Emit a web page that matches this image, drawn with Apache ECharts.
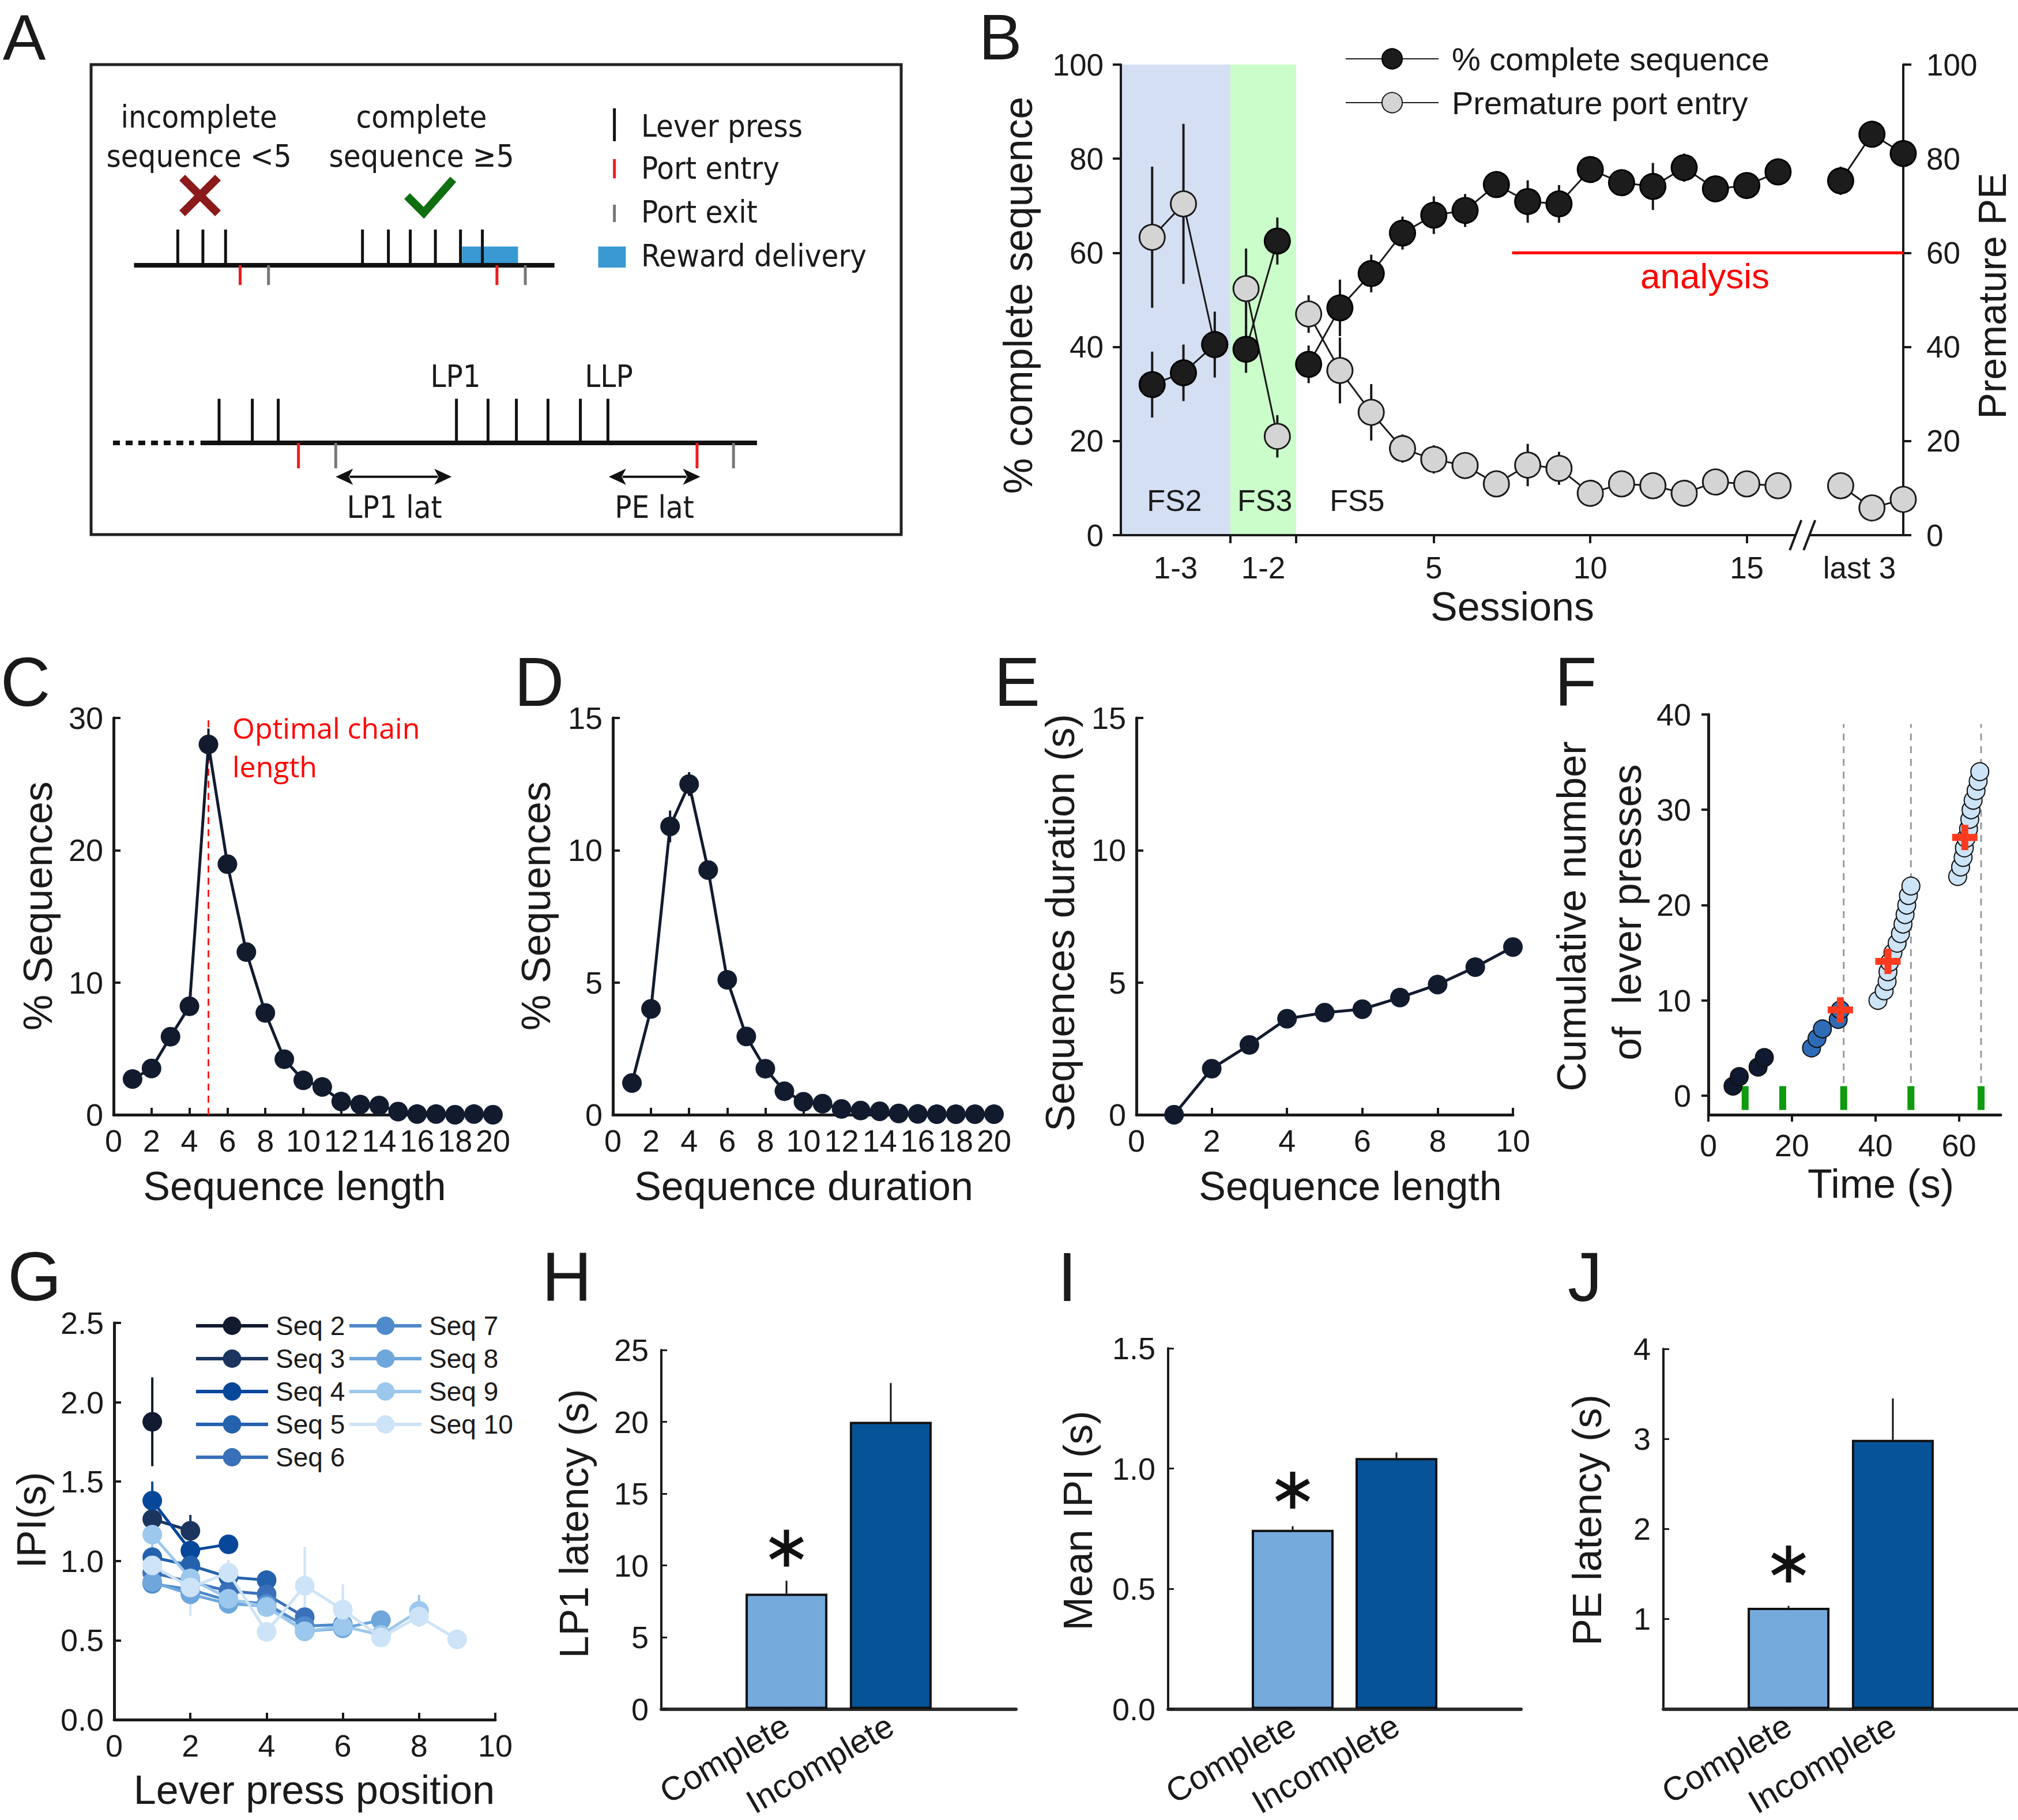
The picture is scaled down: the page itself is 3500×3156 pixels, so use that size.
<!DOCTYPE html>
<html><head><meta charset="utf-8">
<script src="https://cdn.jsdelivr.net/npm/echarts@6/dist/echarts.min.js"></script>
<style>html,body{margin:0;padding:0;background:#fff}#c{width:3500px;height:3156px}</style>
</head><body><div id="c"></div>
<script>
// ---------------- DATA ----------------
// Panel A schematic (arbitrary time units)
const aTimeline1 = [5.3, 57.2];
const aTimeline1Y = 57.3;
const aPresses1 = [10.7, 13.8, 16.6, 33.5, 36.7, 39.4, 42.5, 45.6, 48.3];
const aEntries1 = [18.4, 50.1];
const aExits1 = [21.9, 53.6];
const aReward1 = [45.8, 52.7];
const aTimeline2 = [13.5, 82.2];
const aTimeline2Dotted = [2.7, 12.7];
const aTimeline2Y = 19.5;
const aPresses2 = [15.8, 19.9, 23.1, 45.1, 49.0, 52.5, 56.4, 60.4, 63.8];
const aEntries2 = [25.6, 74.8];
const aExits2 = [30.2, 79.3];
const aLatencyArrows = [[30.2, 44.5], [63.9, 75.2]];

// Panel B
const bPos = [1,2,3, 4,5, 6,7,8,9,10,11,12,13,14,15,16,17,18,19,20,21, 23,24,25];
const bGroup = [0,0,0, 1,1, 2,2,2,2,2,2,2,2,2,2,2,2,2,2,2,2, 3,3,3];
const bComplete = [32,34.5,40.5, 39.5,62.5, 36.3,48.3,55.6,64.2,68,69,74.5,70.9,70.4,77.7,74.9,74.1,78.1,73.6,74.3,77.2, 75.3,85.2,81.1];
const bCompleteErr = [7,6,7, 5,5, 4,6,4,3.5,4,3.5,2,4.5,4,2,2.5,5,3,2,2.5,2, 3,2,2];
const bPremature = [63.3,70.4,40.5, 52.4,21, 47,35,26.1,18.4,16.1,14.8,10.9,14.9,14.2,8.9,10.9,10.5,8.9,11.3,10.9,10.5, 10.5,5.8,7.6];
const bPrematureErr = [15,17,3, 8.5,4.5, 4,7,6,3,3,2,1.5,4.5,3.5,2,2,2,1.5,2,1.5,1.5, 2,1.5,1.5];
const bStageStart = [0, 3.5];
const bStageEnd = [3.5, 5.6];
const bStageNames = ['FS2', 'FS3', 'FS5'];
const bStageLabelX = [1.71, 4.6, 7.55];
const bStageLabelY = 7.4;
const bTickPos = [3.5, 5.6, 10, 15, 20];
const bLabelPos = [1.75, 4.55, 10, 15, 20, 23.6];
const bLabelText = ['1-3', '1-2', '5', '10', '15', 'last 3'];
const bAnalysisRange = [12.5, 25];
const bAnalysisLevel = 60;
const bBreakAt = 21.78;

// Panel C
const cLength = [1,2,3,4,5,6,7,8,9,10,11,12,13,14,15,16,17,18,19,20];
const cPct = [2.7,3.5,5.9,8.2,28.0,18.95,12.3,7.7,4.2,2.6,2.1,1.0,0.77,0.7,0.24,0.05,0.05,0.0,0.05,0.0];
const cErr = [0.1,0.1,0.2,0.3,1.2,0.3,0.3,0.2,0.1,0.1,0.05,0.05,0,0,0,0,0,0,0,0];
const cOptimal = 5;

// Panel D
const dDuration = [1,2,3,4,5,6,7,8,9,10,11,12,13,14,15,16,17,18,19,20];
const dPct = [1.2,4.0,10.9,12.5,9.25,5.1,2.96,1.74,0.89,0.49,0.42,0.22,0.16,0.13,0.05,0.03,0.02,0.02,0.02,0.02];
const dErr = [0.1,0.2,0.6,0.45,0.2,0.15,0.1,0.05,0,0,0,0,0,0,0,0,0,0,0,0];

// Panel E
const eLength = [1,2,3,4,5,6,7,8,9,10];
const eDuration = [0,1.74,2.64,3.63,3.86,3.99,4.43,4.92,5.58,6.34];

// Panel F
const fTimesIncomplete = [5.9, 7.4, 11.9, 13.4];
const fCountIncomplete = [1, 2, 3, 4];
const fTimesFirstComplete = [24.7, 26.0, 27.3, 31.1, 31.6];
const fCountFirstComplete = [5, 6, 7, 8, 9];
const fTimesLater = [40.6,42.1,42.8,43.0,43.4,44.2,45.2,46.0,46.6,47.1,47.5,47.9,48.5, 59.7,60.4,61.0,61.3,61.7,62.3,62.6,62.9,63.4,64.1,64.6,65.0];
const fCountLater = [10,11,12,13,14,15,16,17,18,19,20,21,22, 23,24,25,26,27,28,29,30,31,32,33,34];
const fCrossTimes = [31.6, 43.0, 61.4];
const fCrossCounts = [9.0, 14.1, 27.1];
const fRewardTimes = [32.4, 48.5, 65.3];
const fGreenTimes = [8.8, 17.8, 32.4, 48.5, 65.3];

// Panel G
const gNames = ['Seq 2','Seq 3','Seq 4','Seq 5','Seq 6','Seq 7','Seq 8','Seq 9','Seq 10'];
const gSeq2 = [1.877];
const gSeq3 = [1.264, 1.19];
const gSeq4 = [1.38, 1.066, 1.105];
const gSeq5 = [1.024, 0.972, 0.898, 0.879];
const gSeq6 = [0.926, 0.868, 0.81, 0.79, 0.646];
const gSeq7 = [0.856, 0.82, 0.75, 0.73, 0.59, 0.60];
const gSeq8 = [0.868, 0.79, 0.73, 0.716, 0.557, 0.576, 0.627];
const gSeq9 = [1.166, 0.89, 0.762, 0.709, 0.557, 0.588, 0.534, 0.686];
const gSeq10 = [0.972, 0.833, 0.926, 0.553, 0.844, 0.693, 0.518, 0.65, 0.506];
const gErr2 = [0.28];
const gErr3 = [0.05, 0.1];
const gErr4 = [0.12, 0.05, 0.03];
const gErr5 = [0.04, 0.03, 0.03, 0.03];
const gErr6 = [0.04, 0.03, 0.03, 0.03, 0.03];
const gErr7 = [0.03, 0.03, 0.03, 0.03, 0.03, 0.03];
const gErr8 = [0.03, 0.03, 0.03, 0.03, 0.03, 0.03, 0.03];
const gErr9 = [0.2, 0.06, 0.04, 0.04, 0.04, 0.04, 0.04, 0.1];
const gErr10 = [0.08, 0.18, 0.08, 0.04, 0.245, 0.16, 0.06, 0.05, 0.02];

// Panels H, I, J
const barCats = ['Complete', 'Incomplete'];
const barPos = [1, 2];
const hLatency = [8.03, 20.0];
const hErr = [0.9, 2.7];
const iMeanIPI = [0.745, 1.044];
const iErr = [0.015, 0.023];
const jPELatency = [1.125, 2.99];
const jErr = [0.02, 0.46];
const hSigY = 11.2, iSigY = 0.91, jSigY = 1.61;

// ---------------- STYLE / HELPERS ----------------
const INK = '#1a1a1a';
const FONT = "'Liberation Sans', Arial, Helvetica, sans-serif";
const NARROW = "'Liberation Sans Narrow', 'DejaVu Sans Condensed', 'Liberation Sans', sans-serif";
const NAVY = '#121b2e';
const gColors = ['#111a2e','#1b355f','#06479a','#2462ad','#3a70ba','#4f8acb','#6ea7dc','#9dc8ed','#cde3f7'];

function merge(a, b) {
  const o = Object.assign({}, a);
  for (const k in b) {
    const v = b[k];
    if (v && typeof v === 'object' && !Array.isArray(v) && o[k] && typeof o[k] === 'object' && !Array.isArray(o[k])) o[k] = merge(o[k], v);
    else o[k] = v;
  }
  return o;
}
function ax(grid, min, max, extra) {
  return merge({
    type: 'value', gridIndex: grid, min: min, max: max, splitLine: {show: false},
    axisLine: {show: true, onZero: false, lineStyle: {color: INK, width: 5}},
    axisTick: {show: true, inside: true, length: 12, lineStyle: {color: INK, width: 4}},
    axisLabel: {show: true, fontSize: 54, color: INK, fontFamily: FONT, margin: 18}
  }, extra || {});
}
function segSeries(xi, yi, data, stroke, width, z, dash) {
  return {
    type: 'custom', xAxisIndex: xi, yAxisIndex: yi, z: z, silent: true, data: data,
    renderItem: function (p, api) {
      const a = api.coord([api.value(0), api.value(1)]), b = api.coord([api.value(2), api.value(3)]);
      const st = {stroke: stroke, lineWidth: width};
      if (dash) st.lineDash = dash;
      return {type: 'line', shape: {x1: a[0], y1: a[1], x2: b[0], y2: b[1]}, style: st};
    }
  };
}
function errData(xs, ys, es) { return xs.map((x, i) => [x, ys[i] - es[i], x, ys[i] + es[i]]); }
function errUp(xs, ys, es) { return xs.map((x, i) => [x, ys[i], x, ys[i] + es[i]]); }
function withGaps(pos, grp, vals) {
  const out = [];
  for (let i = 0; i < pos.length; i++) {
    if (i > 0 && grp[i] !== grp[i - 1]) out.push([(pos[i] + pos[i - 1]) / 2, '-']);
    out.push([pos[i], vals[i]]);
  }
  return out;
}
function T(text, x, y, size, o) {
  o = o || {};
  return {
    type: 'text', x: x, y: y, rotation: o.rot || 0, silent: true, z: 50,
    style: {text: text, fill: o.color || INK, fontSize: size, fontFamily: o.family || FONT,
      align: o.align || 'center', verticalAlign: 'middle', textAlign: o.align || 'center', textVerticalAlign: 'middle',
      fontWeight: o.weight || 'normal', lineHeight: o.lh || size * 1.2}
  };
}
const UP = Math.PI / 2;

// ---------------- PANEL A shapes (in schematic units) ----------------
const aShapes = [];
function aSeg(x1, y1, x2, y2, stroke, w, dash) { aShapes.push({k: 'seg', p: [x1, y1, x2, y2], stroke, w, dash}); }
function aRect(x1, y1, x2, y2, fill) { aShapes.push({k: 'rect', p: [x1, y1, x2, y2], fill}); }
aRect(aReward1[0], aTimeline1Y, aReward1[1], 61.3, '#3899d3');
aSeg(aTimeline1[0], aTimeline1Y, aTimeline1[1], aTimeline1Y, '#111', 8);
aPresses1.forEach(x => aSeg(x, aTimeline1Y, x, aTimeline1Y + 7.6, '#111', 5));
aEntries1.forEach(x => aSeg(x, aTimeline1Y, x, aTimeline1Y - 4.2, '#ee1c1c', 5));
aExits1.forEach(x => aSeg(x, aTimeline1Y, x, aTimeline1Y - 4.2, '#777', 5));
aSeg(aTimeline2Dotted[0], aTimeline2Y, aTimeline2Dotted[1], aTimeline2Y, '#111', 8, [12, 10]);
aSeg(aTimeline2[0], aTimeline2Y, aTimeline2[1], aTimeline2Y, '#111', 8);
aPresses2.forEach(x => aSeg(x, aTimeline2Y, x, aTimeline2Y + 9.4, '#111', 5));
aEntries2.forEach(x => aSeg(x, aTimeline2Y, x, aTimeline2Y - 5.4, '#ee1c1c', 5));
aExits2.forEach(x => aSeg(x, aTimeline2Y, x, aTimeline2Y - 5.4, '#777', 5));
aLatencyArrows.forEach(r => aShapes.push({k: 'arrow', p: [r[0], 12.3, r[1], 12.3]}));
// legend keys
aSeg(64.6, 83.7, 64.6, 90.7, '#111', 5);
aSeg(64.6, 75.8, 64.6, 79.9, '#ee1c1c', 5);
aSeg(64.6, 66.5, 64.6, 70.2, '#777', 5);
aRect(62.6, 56.8, 66.0, 61.3, '#3899d3');

const aSeries = {
  type: 'custom', xAxisIndex: 0, yAxisIndex: 0, silent: true, z: 5,
  data: aShapes.map(s => s.p),
  renderItem: function (params, api) {
    const s = aShapes[params.dataIndex];
    const a = api.coord([s.p[0], s.p[1]]), b = api.coord([s.p[2], s.p[3]]);
    if (s.k === 'seg') {
      const st = {stroke: s.stroke, lineWidth: s.w};
      if (s.dash) st.lineDash = s.dash;
      return {type: 'line', shape: {x1: a[0], y1: a[1], x2: b[0], y2: b[1]}, style: st};
    }
    if (s.k === 'rect') {
      return {type: 'rect', shape: {x: Math.min(a[0], b[0]), y: Math.min(a[1], b[1]), width: Math.abs(b[0] - a[0]), height: Math.abs(b[1] - a[1])}, style: {fill: s.fill}};
    }
    const L = 30, H = 14;
    return {type: 'group', children: [
      {type: 'line', shape: {x1: a[0] + L - 6, y1: a[1], x2: b[0] - L + 6, y2: b[1]}, style: {stroke: '#111', lineWidth: 4}},
      {type: 'polygon', shape: {points: [[a[0], a[1]], [a[0] + L, a[1] - H], [a[0] + L * 0.75, a[1]], [a[0] + L, a[1] + H]]}, style: {fill: '#111'}},
      {type: 'polygon', shape: {points: [[b[0], b[1]], [b[0] - L, b[1] - H], [b[0] - L * 0.75, b[1]], [b[0] - L, b[1] + H]]}, style: {fill: '#111'}}
    ]};
  }
};

// ---------------- GRIDS & AXES ----------------
const grids = [
  {left: 158, top: 112, width: 1405, height: 815},   // A
  {left: 1944, top: 112, width: 1357, height: 816},  // B
  {left: 197, top: 1245, width: 658, height: 688},   // C
  {left: 1063, top: 1245, width: 661, height: 688},  // D
  {left: 1971, top: 1245, width: 653, height: 688},  // E
  {left: 2963, top: 1239, width: 507, height: 694},  // F
  {left: 198, top: 2294, width: 661, height: 688},   // G
  {left: 1147, top: 2341, width: 615, height: 635},  // H
  {left: 2026, top: 2338, width: 612, height: 633},  // I
  {left: 2885, top: 2339, width: 615, height: 634}   // J
];
const barX = g => ax(g, -0.2, 3.2, {
  axisLine: {lineStyle: {color: '#2b2b2b', width: 6}},
  axisTick: {customValues: barPos, length: 8, lineStyle: {width: 3}},
  axisLabel: {customValues: barPos, formatter: v => barCats[Math.round(v) - 1], rotate: 30, fontSize: 58, margin: 24}
});
const xAxes = [
  {type: 'value', gridIndex: 0, min: 0, max: 100, show: false},
  ax(1, 0, 25, {axisLine: {lineStyle: {width: 4}}, axisTick: {inside: false, customValues: bTickPos, length: 14},
    axisLabel: {customValues: bLabelPos, fontSize: 53, margin: 30,
      formatter: v => { let k = 0; bLabelPos.forEach((p, i) => { if (Math.abs(p - v) < Math.abs(bLabelPos[k] - v)) k = i; }); return bLabelText[k]; }}}),
  ax(2, 0, 20, {interval: 2}),
  ax(3, 0, 20, {interval: 2}),
  ax(4, 0, 10, {interval: 2}),
  ax(5, 0, 70, {axisTick: {inside: false, customValues: [0, 20, 40, 60], length: 12}, axisLabel: {customValues: [0, 20, 40, 60], margin: 26}}),
  ax(6, 0, 10, {interval: 2}),
  barX(7), barX(8), barX(9)
];
const yAxes = [
  {type: 'value', gridIndex: 0, min: 0, max: 100, show: false},
  ax(1, 0, 100, {interval: 20, axisLine: {lineStyle: {width: 4}}, axisTick: {inside: false, length: 14}, axisLabel: {fontSize: 53, margin: 30}}),
  ax(2, 0, 30, {interval: 10}),
  ax(3, 0, 15, {interval: 5}),
  ax(4, 0, 15, {interval: 5}),
  ax(5, -2, 40, {axisTick: {inside: false, customValues: [0, 10, 20, 30, 40], length: 12}, axisLabel: {customValues: [0, 10, 20, 30, 40], margin: 30}}),
  ax(6, 0, 2.5, {interval: 0.5, axisLabel: {formatter: v => v.toFixed(1)}}),
  ax(7, 0, 25, {interval: 5, axisLine: {lineStyle: {width: 4}}, axisTick: {length: 10, lineStyle: {width: 3}}, axisLabel: {margin: 22}}),
  ax(8, 0, 1.5, {interval: 0.5, axisLine: {lineStyle: {width: 4}}, axisTick: {length: 10, lineStyle: {width: 3}}, axisLabel: {margin: 22, formatter: v => v.toFixed(1)}}),
  ax(9, 0, 4, {interval: 1, axisLine: {lineStyle: {width: 4}}, axisTick: {length: 10, lineStyle: {width: 3}}, axisLabel: {margin: 22, showMinLabel: false}}),
  ax(1, 0, 100, {position: 'right', interval: 20, axisLine: {lineStyle: {width: 4}}, axisTick: {inside: false, length: 14}, axisLabel: {fontSize: 53, margin: 40}})
];

// ---------------- SERIES ----------------
const series = [aSeries];

// B: stage bands
series.push({
  type: 'custom', xAxisIndex: 1, yAxisIndex: 1, z: 0, silent: true,
  data: bStageStart.map((s, i) => [s, bStageEnd[i], i]),
  renderItem: function (p, api) {
    const a = api.coord([api.value(0), 100]), b = api.coord([api.value(1), 0]);
    return {type: 'rect', shape: {x: a[0], y: a[1], width: b[0] - a[0], height: b[1] - a[1]},
      style: {fill: api.value(2) === 0 ? '#d5dff3' : '#cbfdcb'}};
  }
});
// B: stage labels
series.push({
  type: 'custom', xAxisIndex: 1, yAxisIndex: 1, z: 6, silent: true,
  data: bStageLabelX.map((x, i) => [x, bStageLabelY, i]),
  renderItem: function (p, api) {
    const c = api.coord([api.value(0), api.value(1)]);
    return {type: 'text', x: c[0], y: c[1], style: {text: bStageNames[api.value(2)], fill: INK, fontSize: 52, fontFamily: FONT,
      align: 'center', verticalAlign: 'middle', textAlign: 'center', textVerticalAlign: 'middle'}};
  }
});
// B: axis break
series.push({
  type: 'custom', xAxisIndex: 1, yAxisIndex: 1, z: 10, silent: true,
  data: [[bBreakAt, 0]],
  renderItem: function (p, api) {
    const c = api.coord([api.value(0), api.value(1)]);
    return {type: 'group', children: [
      {type: 'rect', shape: {x: c[0] - 12, y: c[1] - 8, width: 24, height: 16}, style: {fill: '#fff'}},
      {type: 'line', shape: {x1: c[0] - 22, y1: c[1] + 26, x2: c[0] - 2, y2: c[1] - 26}, style: {stroke: INK, lineWidth: 4}},
      {type: 'line', shape: {x1: c[0] + 2, y1: c[1] + 26, x2: c[0] + 22, y2: c[1] - 26}, style: {stroke: INK, lineWidth: 4}}
    ]};
  }
});
// B: analysis line
series.push({type: 'line', xAxisIndex: 1, yAxisIndex: 1, z: 2, silent: true, symbol: 'none',
  data: bAnalysisRange.map(x => [x, bAnalysisLevel]), lineStyle: {color: '#ff0000', width: 5}});
// B: error bars
series.push(segSeries(1, 10, errData(bPos, bPremature, bPrematureErr), INK, 4, 2));
series.push(segSeries(1, 1, errData(bPos, bComplete, bCompleteErr), INK, 4, 2));
// B: lines
series.push({name: 'Premature port entry', type: 'line', xAxisIndex: 1, yAxisIndex: 10, z: 3,
  data: withGaps(bPos, bGroup, bPremature), connectNulls: false,
  symbol: 'circle', symbolSize: 44, itemStyle: {color: '#d4d4d4', borderColor: INK, borderWidth: 3},
  lineStyle: {color: INK, width: 3}});
series.push({name: '% complete sequence', type: 'line', xAxisIndex: 1, yAxisIndex: 1, z: 4,
  data: withGaps(bPos, bGroup, bComplete), connectNulls: false,
  symbol: 'circle', symbolSize: 44, itemStyle: {color: '#1c1c1c', borderColor: '#000', borderWidth: 3},
  lineStyle: {color: INK, width: 3}});

// C
series.push({type: 'line', xAxisIndex: 2, yAxisIndex: 2, z: 1, silent: true, symbol: 'none',
  data: [[cOptimal, 0], [cOptimal, 30]], lineStyle: {color: '#ff1a1a', width: 3, type: [12, 9]}});
series.push(segSeries(2, 2, errData(cLength, cPct, cErr), NAVY, 4, 2));
series.push({type: 'line', xAxisIndex: 2, yAxisIndex: 2, z: 3, data: cLength.map((x, i) => [x, cPct[i]]),
  symbol: 'circle', symbolSize: 34, itemStyle: {color: NAVY}, lineStyle: {color: NAVY, width: 5}});
// D
series.push(segSeries(3, 3, errData(dDuration, dPct, dErr), NAVY, 4, 2));
series.push({type: 'line', xAxisIndex: 3, yAxisIndex: 3, z: 3, data: dDuration.map((x, i) => [x, dPct[i]]),
  symbol: 'circle', symbolSize: 34, itemStyle: {color: NAVY}, lineStyle: {color: NAVY, width: 5}});
// E
series.push({type: 'line', xAxisIndex: 4, yAxisIndex: 4, z: 3, data: eLength.map((x, i) => [x, eDuration[i]]),
  symbol: 'circle', symbolSize: 34, itemStyle: {color: NAVY}, lineStyle: {color: NAVY, width: 5}});

// F
series.push(segSeries(5, 5, fRewardTimes.map(t => [t, 0, t, 39]), '#9a9a9a', 3, 1, [12, 10]));
series.push({
  type: 'custom', xAxisIndex: 5, yAxisIndex: 5, z: 2, silent: true,
  data: fGreenTimes.map(t => [t, -1.5, 1.0]),
  renderItem: function (p, api) {
    const a = api.coord([api.value(0), api.value(2)]), b = api.coord([api.value(0), api.value(1)]);
    return {type: 'rect', shape: {x: a[0] - 6, y: a[1], width: 12, height: b[1] - a[1]}, style: {fill: '#109a10'}};
  }
});
const fDot = (times, counts, color) => ({type: 'scatter', xAxisIndex: 5, yAxisIndex: 5, z: 3,
  data: times.map((t, i) => [t, counts[i]]), symbol: 'circle', symbolSize: 31,
  itemStyle: {color: color, borderColor: '#111', borderWidth: 2, opacity: 1}});
series.push(fDot(fTimesIncomplete, fCountIncomplete, '#0f1a30'));
series.push(fDot(fTimesFirstComplete, fCountFirstComplete, '#2f6cb7'));
series.push(fDot(fTimesLater, fCountLater, '#cde4f7'));
series.push({type: 'scatter', xAxisIndex: 5, yAxisIndex: 5, z: 4, data: fCrossTimes.map((t, i) => [t, fCrossCounts[i]]),
  symbol: 'path://M-1.1,-4H1.1V-1.1H4V1.1H1.1V4H-1.1V1.1H-4V-1.1H-1.1Z', symbolSize: 44,
  itemStyle: {color: '#ff3b1f', opacity: 1}});

// G
const gVals = [gSeq2, gSeq3, gSeq4, gSeq5, gSeq6, gSeq7, gSeq8, gSeq9, gSeq10];
const gErrs = [gErr2, gErr3, gErr4, gErr5, gErr6, gErr7, gErr8, gErr9, gErr10];
gVals.forEach((vals, k) => {
  const xs = vals.map((v, i) => i + 1);
  series.push(segSeries(6, 6, errData(xs, vals, gErrs[k]), gColors[k], 4, 2 + k * 0.1));
  series.push({name: gNames[k], type: 'line', xAxisIndex: 6, yAxisIndex: 6, z: 3 + k * 0.1,
    data: xs.map((x, i) => [x, vals[i]]), symbol: 'circle', symbolSize: 34,
    itemStyle: {color: gColors[k]}, lineStyle: {color: gColors[k], width: 5}});
});

// H, I, J
function barPanel(g, vals, errs, sigY) {
  series.push({type: 'bar', xAxisIndex: g, yAxisIndex: g, z: 2, barWidth: 142,
    data: barPos.map((x, i) => ({value: [x, vals[i]], itemStyle: {color: i === 0 ? '#75aadc' : '#065497', borderColor: '#111', borderWidth: 4}}))});
  series.push(segSeries(g, g, errUp(barPos, vals, errs), '#111', 3, 3));
  series.push({type: 'custom', xAxisIndex: g, yAxisIndex: g, z: 5, silent: true, data: [[barPos[0], sigY]],
    renderItem: function (p, api) {
      const c = api.coord([api.value(0), api.value(1)]);
      const R = 32, w = 9, kids = [];
      [90, 30, 150].forEach(deg => {
        const r = deg * Math.PI / 180, dx = Math.cos(r) * R, dy = Math.sin(r) * R;
        kids.push({type: 'line', shape: {x1: c[0] - dx, y1: c[1] - dy, x2: c[0] + dx, y2: c[1] + dy}, style: {stroke: '#111', lineWidth: w}});
      });
      return {type: 'group', children: kids};
    }});
}
barPanel(7, hLatency, hErr, hSigY);
barPanel(8, iMeanIPI, iErr, iSigY);
barPanel(9, jPELatency, jErr, jSigY);

// ---------------- GRAPHIC TEXT ----------------
const graphics = [
  {type: 'rect', shape: {x: 158, y: 112, width: 1405, height: 815}, style: {fill: 'none', stroke: '#222', lineWidth: 5}, silent: true},
  {type: 'group', silent: true, children: [
    {type: 'line', shape: {x1: 316, y1: 308, x2: 378, y2: 370}, style: {stroke: '#8b1a1a', lineWidth: 14}},
    {type: 'line', shape: {x1: 378, y1: 308, x2: 316, y2: 370}, style: {stroke: '#8b1a1a', lineWidth: 14}},
    {type: 'polyline', shape: {points: [[706, 340], [735, 369], [786, 311]]}, style: {stroke: '#0f6e0f', lineWidth: 14, fill: 'none'}}
  ]},
  // panel letters
  T('A', 42, 64, 112), T('B', 1735, 64, 112), T('C', 44, 1182, 120), T('D', 935, 1182, 120),
  T('E', 1764, 1182, 120), T('F', 2733, 1182, 120), T('G', 60, 2213, 120), T('H', 983, 2214, 120),
  T('I', 1851, 2214, 120), T('J', 2749, 2214, 120),
  // panel A text
  T('incomplete', 345, 202, 54, {family: NARROW}), T('sequence <5', 345, 270, 54, {family: NARROW}),
  T('complete', 731, 202, 54, {family: NARROW}), T('sequence \u22655', 731, 270, 54, {family: NARROW}),
  T('Lever press', 1112, 218, 54, {family: NARROW, align: 'left'}),
  T('Port entry', 1112, 291, 54, {family: NARROW, align: 'left'}),
  T('Port exit', 1112, 367, 54, {family: NARROW, align: 'left'}),
  T('Reward delivery', 1112, 443, 54, {family: NARROW, align: 'left'}),
  T('LP1', 790, 652, 54, {family: NARROW}), T('LLP', 1056, 652, 54, {family: NARROW}),
  T('LP1 lat', 684, 879, 54, {family: NARROW}), T('PE lat', 1135, 879, 54, {family: NARROW}),
  // B
  T('% complete sequence', 1766, 512, 70, {rot: UP}), T('Premature PE', 3455, 513, 68, {rot: UP}),
  T('Sessions', 2623, 1052, 70), T('analysis', 2957, 478, 62, {color: '#ff0000'}),
  // C
  T('% Sequences', 66, 1571, 70, {rot: UP}), T('Sequence length', 511, 2057, 70),
  T('Optimal chain', 403, 1262, 50, {color: '#ff0000', align: 'left', family: "'Open Sans', 'Liberation Sans', sans-serif"}),
  T('length', 403, 1329, 50, {color: '#ff0000', align: 'left', family: "'Open Sans', 'Liberation Sans', sans-serif"}),
  // D
  T('% Sequences', 930, 1571, 70, {rot: UP}), T('Sequence duration', 1394, 2057, 70),
  // E
  T('Sequences duration (s)', 1839, 1600, 70, {rot: UP}), T('Sequence length', 2342, 2057, 70),
  // F
  T('Cumulative number', 2726, 1589, 70, {rot: UP}), T('of  lever presses', 2822, 1582, 70, {rot: UP}),
  T('Time (s)', 3262, 2053, 70),
  // G
  T('IPI(s)', 55, 2636, 70, {rot: UP}), T('Lever press position', 545, 3104, 70),
  // H I J
  T('LP1 latency (s)', 996, 2642, 70, {rot: UP}), T('Mean IPI (s)', 1870, 2637, 70, {rot: UP}),
  T('PE latency (s)', 2753, 2636, 70, {rot: UP})
];

// ---------------- LEGENDS ----------------
const gLegendBase = {orient: 'vertical', itemWidth: 125, itemHeight: 40, itemGap: 11, selectedMode: false,
  lineStyle: {width: 6}, textStyle: {fontSize: 46, color: INK, fontFamily: FONT, padding: [0, 0, 0, 8]}};
const legends = [
  {data: ['% complete sequence', 'Premature port entry'], left: 2328, top: 69, orient: 'vertical',
    itemWidth: 161, itemHeight: 44, itemGap: 20, selectedMode: false,
    textStyle: {fontSize: 56, color: INK, fontFamily: FONT, padding: [0, 0, 0, 18]}},
  merge(gLegendBase, {data: gNames.slice(0, 5), left: 332, top: 2271}),
  merge(gLegendBase, {data: gNames.slice(5), left: 598, top: 2271})
];

const chart = echarts.init(document.getElementById('c'), null, {renderer: 'svg', width: 3500, height: 3156});
chart.setOption({
  animation: false,
  backgroundColor: '#ffffff',
  textStyle: {fontFamily: FONT},
  grid: grids,
  xAxis: xAxes,
  yAxis: yAxes,
  legend: legends,
  series: series,
  graphic: graphics
});
</script></body></html>
